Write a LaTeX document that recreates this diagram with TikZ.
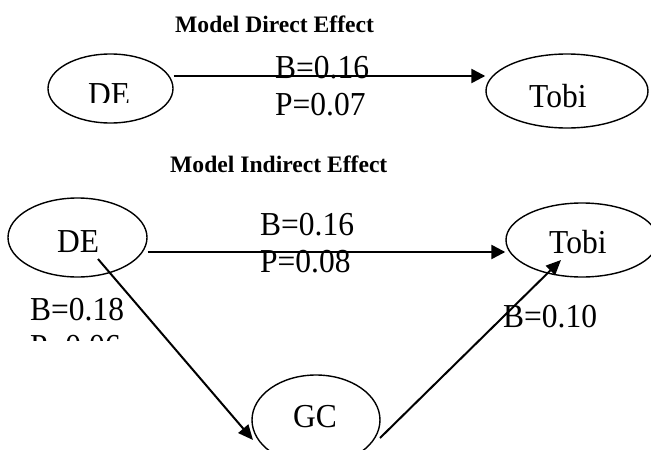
\documentclass[tikz,border=0pt]{standalone}
\usepackage{fontspec}
\setmainfont{Liberation Serif}
\newfontfamily\lblfont[FakeStretch=0.94]{Liberation Serif}
\usetikzlibrary{shapes.geometric,arrows.meta}
\tikzset{
 ell/.style={draw, ellipse, line width=1.4pt, inner sep=0pt},
 lbl/.style={anchor=base west, inner sep=0pt, font=\lblfont\fontsize{33.5}{38}\selectfont},
 ttl/.style={anchor=base west, inner sep=0pt, font=\bfseries\fontsize{23.6}{27}\selectfont},
 arr/.style={-{Triangle[length=14pt,width=14pt]}, line width=2.4pt},
 darr/.style={-{Triangle[length=15pt,width=13pt]}, line width=2pt},
}
\begin{document}
\begin{tikzpicture}[x=1pt,y=-1pt]
\clip (0,0) rectangle (651,450);
\fill[white] (0,0) rectangle (651,450);
% titles
\node[ttl] (t1) at (175,32) {Model Direct Effect};
\node[ttl] (t2) at (170,172) {Model Indirect Effect};
% top model
\node[ell, minimum width=125pt, minimum height=69pt] (de1) at (110.5,88.5) {};
\node[ell, minimum width=162pt, minimum height=74pt] (tobi1) at (567,91) {};
\begin{scope}
\clip (60,60) rectangle (160,102);
\node[lbl] (de1t) at (88,105) {DE};
\end{scope}
\node[lbl] (tobi1t) at (529,107) {Tobi};
\draw[arr] ([yshift=12.5pt]de1.east) -- ([yshift=15pt]tobi1.west);
\node[lbl] (b1) at (275,78) {B=0.16};
\node[lbl] (p1) at (275,115) {P=0.07};
% bottom model
\node[ell, minimum width=139pt, minimum height=79pt] (de2) at (77.5,237.5) {};
\node[ell, minimum width=152pt, minimum height=74pt] (tobi2) at (582,240) {};
\node[ell, minimum width=128pt, minimum height=90pt] (gc) at (316,420) {};
\node[lbl] (de2t) at (57,252) {DE};
\node[lbl] (tobi2t) at (549,253) {Tobi};
\node[lbl] (gct) at (293,427) {GC};
\draw[arr] ([yshift=-14.5pt]de2.east) -- ([yshift=-12pt]tobi2.west);
\node[lbl] (b2) at (260,235) {B=0.16};
\node[lbl] (p2) at (260,272) {P=0.08};
\draw[darr] ([shift={(20.5,21.5)}]de2.center) -- ([shift={(-63,20)}]gc.center);
\draw[darr] ([shift={(64,18)}]gc.center) -- ([shift={(-21,20)}]tobi2.center);
\node[lbl] (b3) at (30,320) {B=0.18};
\begin{scope}
\clip (0,300) rectangle (200,340);
\node[lbl] (p3) at (30,357) {P=0.06};
\end{scope}
\node[lbl] (b4) at (503,327) {B=0.10};
\end{tikzpicture}
\end{document}
